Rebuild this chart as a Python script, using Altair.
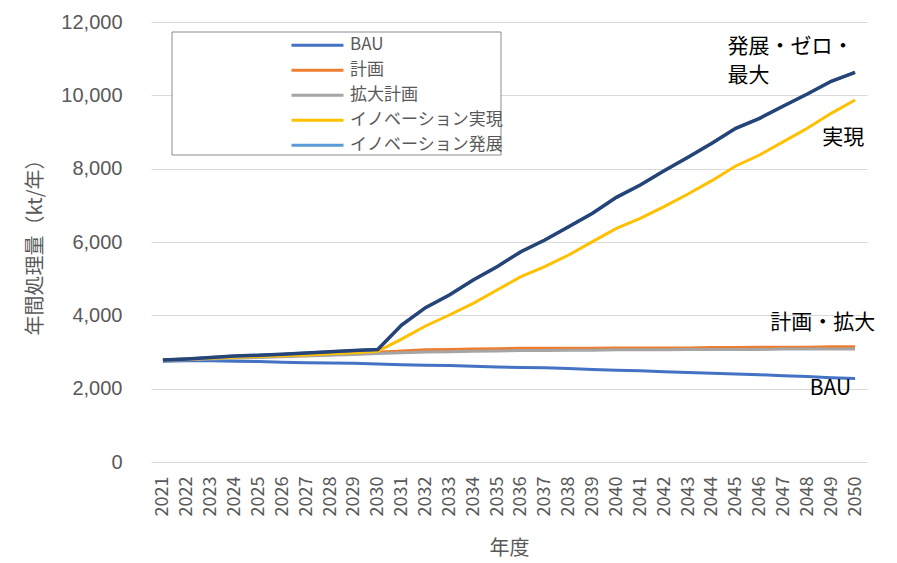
import altair as alt
import pandas as pd

years = list(range(2021, 2051))

bau = [2750, 2760, 2760, 2750, 2740, 2720, 2710, 2700, 2690, 2670,
       2650, 2640, 2630, 2610, 2590, 2580, 2570, 2550, 2520, 2500,
       2490, 2460, 2440, 2420, 2400, 2380, 2350, 2330, 2300, 2280]
keikaku = [2790, 2810, 2830, 2850, 2870, 2890, 2910, 2940, 2960, 2990,
           3030, 3060, 3070, 3080, 3090, 3100, 3100, 3100, 3100, 3110,
           3110, 3110, 3110, 3120, 3120, 3130, 3130, 3130, 3140, 3140]
kakudai = [2770, 2790, 2810, 2830, 2850, 2870, 2890, 2910, 2930, 2960,
           2980, 3000, 3010, 3020, 3030, 3040, 3040, 3050, 3050, 3060,
           3060, 3060, 3070, 3070, 3070, 3070, 3080, 3080, 3080, 3080]
jitsugen = [2780, 2800, 2830, 2860, 2880, 2900, 2920, 2950, 2980, 3020,
            3350, 3710, 4009, 4327, 4691, 5055, 5327, 5645, 6009, 6373,
            6645, 6964, 7309, 7673, 8073, 8373, 8736, 9100, 9509, 9873]
hatten = [2780, 2810, 2850, 2890, 2910, 2940, 2970, 3010, 3040, 3070,
          3736, 4209, 4555, 4964, 5327, 5736, 6055, 6418, 6782, 7218,
          7555, 7945, 8309, 8691, 9100, 9373, 9709, 10036, 10382, 10627]

series_names = ["BAU", "計画", "拡大計画", "イノベーション実現", "イノベーション発展"]
series_vals = [bau, keikaku, kakudai, jitsugen, hatten]
series_colors = ["#4472C4", "#ED7D31", "#A5A5A5", "#FFC000", "#5B9BD5"]

# annotation labels (text, year position, value position)
ann_text = ["発展・ゼロ・", "最大", "実現", "計画・拡大", "BAU"]
ann_x = [2044.65, 2044.65, 2048.62, 2046.45, 2048.1]
ann_y = [11320, 10540, 8830, 3780, 1990]

y_ticks = [0, 2000, 4000, 6000, 8000, 10000, 12000]

rows = []
for name, vals in zip(series_names, series_vals):
    for yr, v in zip(years, vals):
        rows.append({"year": yr, "value": v, "series": name})
df = pd.DataFrame(rows)
df_top = pd.DataFrame({"year": years, "value": hatten})
df_ann = pd.DataFrame({"text": ann_text, "x": ann_x, "y": ann_y})

FONT = "Noto Sans CJK JP"
GRAY = "#595959"

xscale = alt.Scale(domain=[2020.5, 2050.5], nice=False, zero=False)
yscale = alt.Scale(domain=[0, 12000], nice=False)

xaxis = alt.Axis(values=years, format="d", labelAngle=-90, grid=False,
                 ticks=False, domain=False, labelFontSize=18, labelColor=GRAY,
                 labelFont=FONT, labelPadding=14, labelAlign="right",
                 labelBaseline="middle", title="年度", titleFont=FONT,
                 titleFontSize=20, titleColor=GRAY, titleFontWeight="normal",
                 titleX=358, titleY=86, titleBaseline="middle",
                 labelOverlap=False, labelFlush=False)
yaxis = alt.Axis(values=y_ticks, format=",d",
                 grid=True, gridColor="#d9d9d9", gridWidth=1, ticks=False,
                 domain=False, labelFontSize=20, labelColor=GRAY,
                 labelFont="Liberation Sans",
                 labelPadding=29, title="年間処理量（kt/年）", titleFont=FONT,
                 titleFontSize=20, titleColor=GRAY, titleFontWeight="normal",
                 titleX=-116, titleY=220, titleAngle=-90,
                 titleBaseline="middle", titleAlign="center",
                 labelFlush=False, labelOverlap=False)

legend_box = alt.Chart(alt.Data(values=[{"a": 1}])).mark_rect(
    fill="white", stroke="#8c8c8c", strokeWidth=1
).encode(x=alt.value(21), x2=alt.value(350), y=alt.value(10), y2=alt.value(133))

lines = alt.Chart(df).mark_line(strokeWidth=3).encode(
    x=alt.X("year:Q", scale=xscale, axis=xaxis, title="年度"),
    y=alt.Y("value:Q", scale=yscale, axis=yaxis, title="年間処理量（kt/年）"),
    color=alt.Color("series:N",
                    scale=alt.Scale(domain=series_names, range=series_colors),
                    sort=series_names,
                    legend=alt.Legend(orient="none", legendX=139, legendY=11,
                                      title=None, symbolType="stroke", symbolSize=2700,
                                      symbolStrokeWidth=3, labelFontSize=17,
                                      labelFont=FONT, labelColor=GRAY, labelOffset=5,
                                      clipHeight=24.5, rowPadding=0, padding=0)),
    detail="series:N",
    order=alt.Order("year:Q"),
)

top_line = alt.Chart(df_top).mark_line(strokeWidth=3.5, color="#264478").encode(
    x=alt.X("year:Q", scale=xscale, axis=xaxis, title="年度"),
    y=alt.Y("value:Q", scale=yscale, axis=yaxis, title="年間処理量（kt/年）"),
)

ann = alt.Chart(df_ann).mark_text(
    align="left", baseline="middle", fontSize=21, font=FONT, color="#000000"
).encode(
    x=alt.X("x:Q", scale=xscale, axis=xaxis, title="年度"),
    y=alt.Y("y:Q", scale=yscale, axis=yaxis, title="年間処理量（kt/年）"),
    text="text:N",
)

chart = alt.layer(legend_box, lines, top_line, ann).properties(
    width=716, height=440,
    padding={"left": 143, "top": 14, "right": 22, "bottom": 100},
    autosize=alt.AutoSizeParams(type="none"),
).configure(background="white").configure_view(stroke=None)

chart.save("out.html", embed_options={"renderer": "svg", "actions": False})
